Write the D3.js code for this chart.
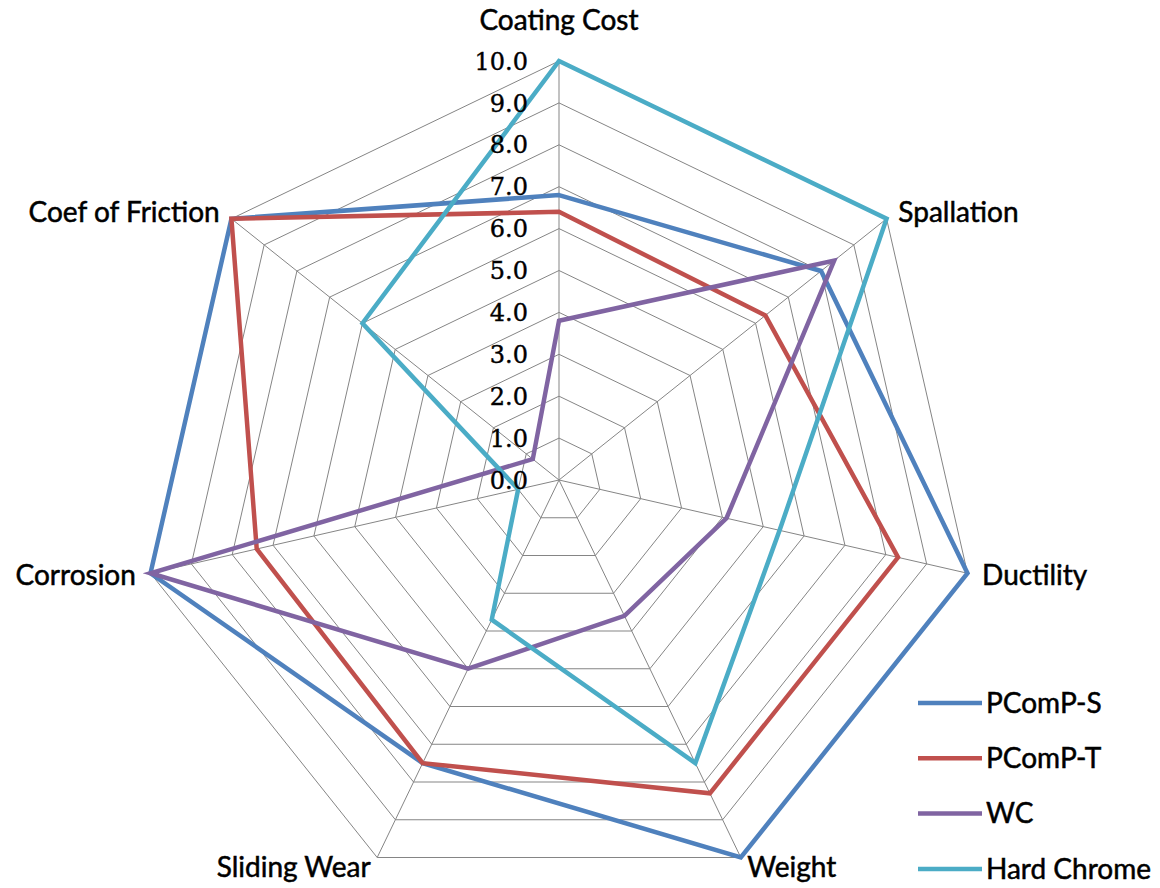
<!DOCTYPE html>
<html>
<head>
<meta charset="utf-8">
<script src="https://cdn.jsdelivr.net/npm/d3@7"></script>
<style>
  html, body { margin: 0; padding: 0; background: #fff; }
  svg { display: block; }
</style>
</head>
<body>
<svg id="chart" width="1160" height="888"></svg>
<script>
// ---- data ----
const categories = ["Coating Cost", "Spallation", "Ductility", "Weight", "Sliding Wear", "Corrosion", "Coef of Friction"];
const seriesNames = ["PComP-S", "PComP-T", "WC", "Hard Chrome"];
const pcompS = [6.8, 8.0, 10.0, 10.0, 7.5, 10.0, 10.0];
const pcompT = [6.4, 6.3, 8.3, 8.3, 7.5, 7.4, 10.0];
const wc = [3.8, 8.4, 4.1, 3.6, 5.0, 10.0, 0.8];
const hardChrome = [10.0, 10.0, 5.4, 7.5, 3.7, 1.0, 6.0];
const tickValues = [0, 1, 2, 3, 4, 5, 6, 7, 8, 9, 10];
const seriesColors = ["#4F81BD", "#C0504D", "#8064A2", "#4BACC6"];

const series = [pcompS, pcompT, wc, hardChrome];

// ---- layout ----
const cx = 559, cy = 480, R = 419;
const svg = d3.select("#chart");
const labelFont = "Lato, 'Open Sans', sans-serif";
const tickFont = "'DejaVu Serif', serif";

const r = d3.scaleLinear().domain([0, 10]).range([0, R]);
const angle = d3.scaleLinear().domain([0, categories.length]).range([0, 2 * Math.PI]);
function pt(i, v) {
  const a = angle(i) - Math.PI / 2;
  return [cx + r(v) * Math.cos(a), cy + r(v) * Math.sin(a)];
}

const g = svg.append("g");

// grid rings
const ringLine = d3.line();
tickValues.filter(t => t > 0).forEach(t => {
  const pts = categories.map((c, i) => pt(i, t));
  g.append("path")
    .attr("d", ringLine(pts) + "Z")
    .attr("fill", "none")
    .attr("stroke", "#858585")
    .attr("stroke-width", 1);
});
// spokes
categories.forEach((c, i) => {
  const [x, y] = pt(i, 10);
  g.append("line")
    .attr("x1", cx).attr("y1", cy).attr("x2", x).attr("y2", y)
    .attr("stroke", "#858585").attr("stroke-width", 1);
});

// series
series.forEach((vals, s) => {
  const pts = vals.map((v, i) => pt(i, v));
  g.append("path")
    .attr("d", d3.line()(pts) + "Z")
    .attr("fill", "none")
    .attr("stroke", seriesColors[s])
    .attr("stroke-width", 4.5)
    .attr("stroke-linejoin", "miter");
});

// tick labels
tickValues.forEach(t => {
  g.append("text")
    .attr("x", cx - 31)
    .attr("y", cy - r(t))
    .attr("dy", "0.36em")
    .attr("text-anchor", "end")
    .attr("font-family", tickFont)
    .attr("font-size", 24)
    .attr("fill", "#000")
    .attr("stroke", "#000").attr("stroke-width", 0.4)
    .text(t.toFixed(1));
});

// category labels
categories.forEach((c, i) => {
  const a = angle(i) - Math.PI / 2;
  const dx = Math.cos(a), dy = Math.sin(a);
  const [ex, ey] = pt(i, 10);
  let anchor = "middle", x, y;
  if (Math.abs(dx) < 0.1) {
    x = ex; y = ey + dy * 41;
  } else {
    anchor = dx > 0 ? "start" : "end";
    x = ex + dx * 15; y = ey + dy * 11;
  }
  g.append("text")
    .attr("x", x).attr("y", y)
    .attr("dy", "0.35em")
    .attr("text-anchor", anchor)
    .attr("font-family", labelFont)
    .attr("font-size", 28)
    .attr("fill", "#000")
    .attr("stroke", "#000").attr("stroke-width", 0.5)
    .text(c);
});

// legend
const legend = svg.append("g").attr("transform", "translate(918,703)");
seriesNames.forEach((n, s) => {
  const row = legend.append("g").attr("transform", `translate(0,${s * 55.3})`);
  row.append("line").attr("x1", 0).attr("x2", 64).attr("y1", 0).attr("y2", 0)
    .attr("stroke", seriesColors[s]).attr("stroke-width", 4.5);
  row.append("text").attr("x", 68).attr("y", 0).attr("dy", "0.35em")
    .attr("font-family", labelFont).attr("font-size", 28).attr("fill", "#000")
    .attr("stroke", "#000").attr("stroke-width", 0.5)
    .text(n);
});
</script>
</body>
</html>
